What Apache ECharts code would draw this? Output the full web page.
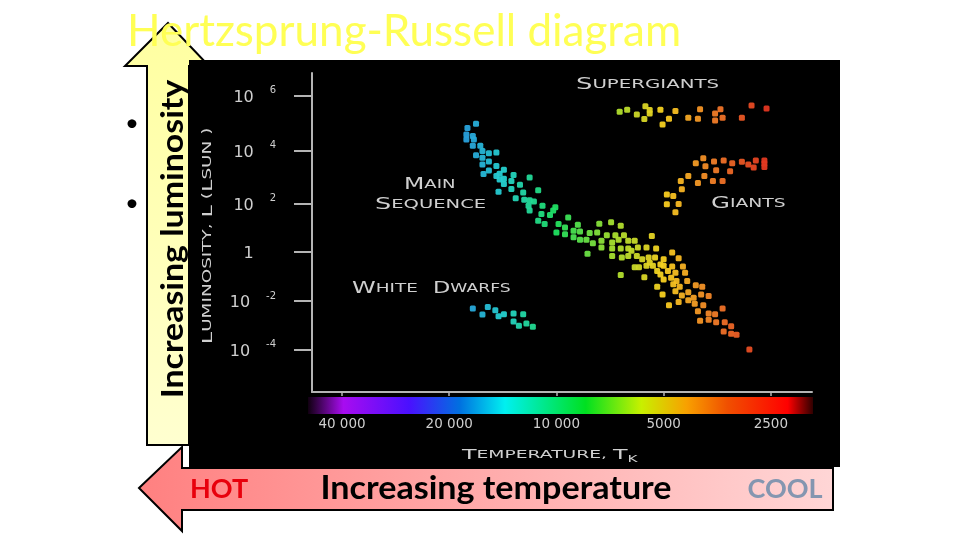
<![CDATA[<!DOCTYPE html>
<html>
<head>
<meta charset="utf-8">
<style>html,body{margin:0;padding:0;background:#fff}#chart{width:960px;height:540px}</style>
<script src="https://cdn.jsdelivr.net/npm/echarts@6/dist/echarts.min.js"></script>
</head>
<body>
<div id="chart"></div>
<script>
// x = doublings below 40 000 K, y = log10 of L/Lsun as read along the printed axis
var tempTicks = [0, 1, 2, 3, 4];
var tempLabels = ['40 000', '20 000', '10 000', '5000', '2500'];
var lumTicks = [-4, -2, 0, 2, 4.17, 6.43];
var lumBase = ['10', '10', '1', '10', '10', '10'];
var lumExp = ['-4', '-2', '', '2', '4', '6'];

var supergiants = [[2.59,5.77],[2.66,5.85],[2.75,5.66],[2.82,5.47],[2.83,5.99],[2.87,5.84],[2.87,5.70],[2.97,5.85],[2.99,5.25],[3.05,5.48],[3.11,5.80],[3.23,5.52],[3.32,5.48],[3.34,5.87],[3.48,5.70],[3.53,5.87],[3.48,5.41],[3.55,5.52],[3.73,5.52],[3.82,6.03],[3.96,5.90]];
var giants = [[3.37,3.86],[3.30,3.65],[3.39,3.53],[3.47,3.73],[3.56,3.77],[3.64,3.65],[3.73,3.72],[3.79,3.60],[3.86,3.77],[3.84,3.48],[3.94,3.77],[3.94,3.64],[3.94,3.50],[3.49,3.37],[3.62,3.33],[3.38,3.13],[3.23,3.13],[3.16,2.92],[3.32,2.84],[3.46,2.92],[3.55,2.93],[3.17,2.59],[3.03,2.37],[3.09,2.31],[3.03,1.97],[3.14,1.98],[3.11,1.64]];
var mainSequence = [[1.25,5.28],[1.17,5.10],[1.16,4.83],[1.16,4.63],[1.22,4.77],[1.23,4.63],[1.22,4.37],[1.29,4.37],[1.31,4.16],[1.25,3.98],[1.37,4.06],[1.44,4.10],[1.31,3.88],[1.37,3.73],[1.31,3.60],[1.44,3.54],[1.37,3.36],[1.32,3.21],[1.51,3.39],[1.47,3.22],[1.60,3.17],[1.44,3.13],[1.51,3.02],[1.47,2.99],[1.58,2.93],[1.75,3.07],[1.51,2.80],[1.66,2.77],[1.58,2.60],[1.69,2.45],[1.83,2.55],[1.46,2.48],[1.62,2.22],[1.70,2.16],[1.75,2.13],[1.79,2.08],[1.74,1.91],[1.87,1.91],[1.99,1.85],
  [1.75,1.71],[1.86,1.57],[1.94,1.53],[1.97,1.71],[1.83,1.29],[1.89,1.16],[2.11,1.43],[2.02,1.16],[2.20,1.13],[2.40,1.17],[2.51,1.23],[2.60,1.09],[2.00,0.81],[2.08,1.02],[2.08,0.74],[2.16,0.88],[2.22,0.85],[2.16,0.61],[2.22,0.51],[2.31,0.79],[2.38,0.81],[2.28,0.51],[2.34,0.37],[2.42,0.47],[2.42,0.19],[2.47,0.70],[2.55,0.70],[2.63,0.70],[2.58,0.51],[2.52,0.40],[2.52,0.15],[2.52,-0.15],[2.29,-0.06],[2.60,0.15],[2.61,-0.22],[2.67,0.47],[2.73,0.47],[2.89,0.67],[2.67,0.15],[2.70,0.06],[2.67,-0.15],[2.76,0.19],[2.84,0.19],[2.93,0.15],[2.75,-0.15],[2.80,-0.29],[2.86,-0.22],[2.92,-0.22],[3.00,-0.29],[3.08,-0.01],[3.14,-0.25],[2.73,-0.62],[2.77,-0.62],[2.84,-0.56],[2.90,-0.56],[2.94,-0.77],[3.00,-0.56],[3.08,-0.59],[3.18,-0.59],[3.20,-0.84],[2.60,-0.94],[2.82,-1.03],[2.97,-0.91],[3.00,-1.12],[3.11,-0.84],[3.12,-1.18],[3.22,-1.18],[3.09,-1.32],[2.94,-1.42],[3.30,-1.36],[3.36,-1.42],[3.15,-1.42],[3.11,-1.60],[3.23,-1.64],[3.17,-1.78],[3.35,-1.74],[3.42,-1.80],[2.99,-1.74],[3.28,-1.87],[3.23,-1.97],[3.14,-2.04],[3.29,-2.12],[3.37,-2.18],[3.05,-2.18],[3.32,-2.42],[3.55,-2.31],[3.42,-2.52],[3.48,-2.55],[3.34,-2.81],[3.42,-2.77],[3.49,-2.88],[3.57,-2.88],[3.63,-3.04],[3.56,-3.26],[3.63,-3.35],[3.68,-3.39],[3.80,-3.99],[2.97,-0.50],[3.04,-0.77],[3.07,-1.05],[2.87,-0.43]];
var whiteDwarfs = [[1.22,-2.31],[1.36,-2.25],[1.31,-2.56],[1.43,-2.38],[1.46,-2.63],[1.51,-2.55],[1.60,-2.52],[1.69,-2.55],[1.60,-2.84],[1.65,-3.02],[1.72,-2.93],[1.78,-3.06]];

var spectrumStops = ['#100010', '#a80cf0', '#4a10ff', '#0070e0', '#00f0f0', '#00e020', '#c8f000', '#f8a000', '#f05000', '#ff0000', '#300000'];
var spectrumOffsets = [0, 0.07, 0.2, 0.3, 0.39, 0.55, 0.66, 0.75, 0.83, 0.95, 1];
var starColors = ['#a020ff', '#5030ff', '#2a8ae0', '#25d0d0', '#20e060', '#a0e030', '#f8d020', '#f07828', '#e03020'];

var axisGrey = '#b4b4b4';
var labelGrey = '#cfcfcf';
var labelFont = '"DejaVu Sans"';
var slideFont = 'Lato';

function starSeries(name, data) {
  return {
    name: name, type: 'scatter', data: data,
    symbol: 'roundRect', symbolSize: 6, itemStyle: {opacity: 0.95}
  };
}

// small caps lettering of the printed diagram
function capsText(x, y, big, small, sx) {
  return {
    type: 'text', x: x, y: y, scaleX: sx, z: 5,
    style: {
      text: '{b|' + big + '}{s|' + small + '}',
      rich: {
        b: {fontFamily: labelFont, fontSize: 15, fill: labelGrey, fontWeight: 'normal'},
        s: {fontFamily: labelFont, fontSize: 11.5, fill: labelGrey, fontWeight: 'normal'}
      }
    }
  };
}

var chart = echarts.init(document.getElementById('chart'));
chart.setOption({
  animation: false,
  backgroundColor: '#ffffff',
  title: {
    text: 'Hertzsprung-Russell diagram', left: 127, top: 10, padding: 0,
    textStyle: {color: '#ffff55', fontFamily: slideFont, fontSize: 44, fontWeight: 'normal'}
  },
  grid: {left: 312, right: 148, top: 73, bottom: 148},
  xAxis: {
    type: 'value', min: -0.28, max: 4.384,
    axisLine: {show: true, onZero: false, lineStyle: {color: axisGrey, width: 2}},
    axisTick: {show: true, customValues: tempTicks, length: 4, lineStyle: {color: axisGrey, width: 1.5}},
    axisLabel: {
      customValues: tempTicks, margin: 25,
      color: labelGrey, fontFamily: labelFont, fontSize: 13.5,
      formatter: function (v) { return tempLabels[tempTicks.indexOf(v)]; }
    },
    splitLine: {show: false}
  },
  yAxis: {
    type: 'value', min: -5.74, max: 7.36,
    axisLine: {show: true, onZero: false, lineStyle: {color: axisGrey, width: 2}},
    axisTick: {show: true, customValues: lumTicks, length: 18, lineStyle: {color: axisGrey, width: 2}},
    axisLabel: {
      customValues: lumTicks, margin: 36,
      formatter: function (v) {
        var i = lumTicks.indexOf(v);
        if (!lumExp[i]) return '{b|' + lumBase[i] + '}{e|       }';
        return '{b|' + lumBase[i] + '}{e|     ' + lumExp[i] + '}';
      },
      rich: {
        b: {color: labelGrey, fontFamily: labelFont, fontSize: 16, verticalAlign: 'bottom'},
        e: {color: labelGrey, fontFamily: labelFont, fontSize: 10, padding: [0, 0, 10, 0], verticalAlign: 'bottom'}
      }
    },
    splitLine: {show: false}
  },
  visualMap: {
    show: false, type: 'continuous', dimension: 0, min: 0, max: 4,
    seriesIndex: [0, 1, 2, 3], inRange: {color: starColors}
  },
  series: [
    starSeries('Supergiants', supergiants),
    starSeries('Giants', giants),
    starSeries('Main Sequence', mainSequence),
    starSeries('White Dwarfs', whiteDwarfs)
  ],
  graphic: [
    // left pointing arrow, sits under the black picture
    {type: 'polygon', z: -4, shape: {points: [[139,488],[182,447],[182,468],[833,468],[833,510],[182,510],[182,531]]},
      style: {stroke: '#000', lineWidth: 2, fill: new echarts.graphic.LinearGradient(0, 0, 1, 0, [
        {offset: 0, color: '#ff8080'}, {offset: 1, color: '#ffd6d6'}])}},
    // up pointing arrow
    {type: 'polygon', z: -3, shape: {points: [[168,23],[209,66],[189,66],[189,445],[147,445],[147,66],[125,66]]},
      style: {stroke: '#000', lineWidth: 2, fill: new echarts.graphic.LinearGradient(0, 0, 0, 1, [
        {offset: 0, color: '#ffffa0'}, {offset: 1, color: '#ffffd0'}])}},
    // bullets of the slide
    {type: 'text', x: 132, y: 123, z: -4, style: {text: '•', fill: '#000', fontSize: 24, fontFamily: slideFont, align: 'center', verticalAlign: 'middle'}},
    {type: 'text', x: 132, y: 203, z: -4, style: {text: '•', fill: '#000', fontSize: 24, fontFamily: slideFont, align: 'center', verticalAlign: 'middle'}},
    // black picture
    {type: 'rect', z: -2, shape: {x: 189, y: 60, width: 651, height: 407}, style: {fill: '#000'}},
    // spectrum strip
    {type: 'rect', z: 1, shape: {x: 308, y: 397, width: 505, height: 17}, style: {
      fill: new echarts.graphic.LinearGradient(0, 0, 1, 0, spectrumStops.map(function (c, i) {
        return {offset: spectrumOffsets[i], color: c};
      }))}},
    {type: 'text', x: 173, y: 239, rotation: Math.PI / 2, scaleX: 1.13, z: 5, style: {
      text: 'Increasing luminosity', fill: '#000', fontFamily: slideFont, fontWeight: 'bold', fontSize: 30,
      align: 'center', verticalAlign: 'middle'}},
    {type: 'text', x: 219, y: 489, z: 5, style: {text: 'HOT', fill: '#e8000c', fontFamily: slideFont, fontWeight: 'bold', fontSize: 27, align: 'center', verticalAlign: 'middle'}},
    {type: 'text', x: 496, y: 489, z: 5, scaleX: 1.065, style: {text: 'Increasing temperature', fill: '#000', fontFamily: slideFont, fontWeight: 'bold', fontSize: 32, align: 'center', verticalAlign: 'middle'}},
    {type: 'text', x: 785, y: 489, z: 5, style: {text: 'COOL', fill: '#8496b0', fontFamily: slideFont, fontWeight: 'bold', fontSize: 27, align: 'center', verticalAlign: 'middle'}},
    capsText(576, 78, 'S', 'UPERGIANTS', 1.72),
    capsText(711, 197, 'G', 'IANTS', 1.63),
    capsText(404, 178, 'M', 'AIN', 1.57),
    capsText(375, 198, 'S', 'EQUENCE', 1.7),
    capsText(352, 282, 'W', 'HITE', 1.6),
    capsText(433, 282, 'D', 'WARFS', 1.5),
    {type: 'text', x: 462, y: 447, z: 5, scaleX: 1.7, style: {
      text: '{b|T}{s|EMPERATURE, }{b|T}{k|K}',
      rich: {
        b: {fontFamily: labelFont, fontSize: 14, fill: labelGrey},
        s: {fontFamily: labelFont, fontSize: 11, fill: labelGrey},
        k: {fontFamily: labelFont, fontSize: 9, fill: labelGrey, padding: [8, 0, 0, 0]}
      }}},
    {type: 'text', x: 208, y: 236, rotation: Math.PI / 2, scaleX: 1.6, z: 5, style: {
      text: '{b|L}{s|UMINOSITY, }{b|L}{s| (}{b|L}{s|SUN )}', align: 'center', verticalAlign: 'middle',
      rich: {
        b: {fontFamily: labelFont, fontSize: 14, fill: labelGrey},
        s: {fontFamily: labelFont, fontSize: 11.5, fill: labelGrey}
      }}}
  ]
});
</script>
</body>
</html>
]]>
